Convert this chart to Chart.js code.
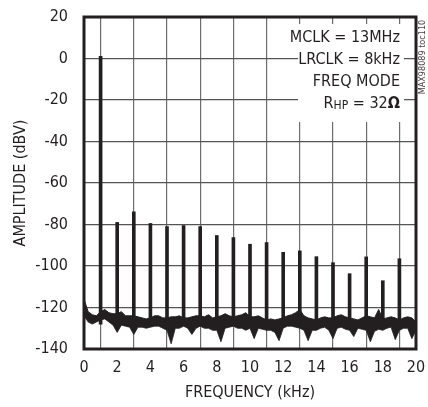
<!DOCTYPE html>
<html>
<head>
<meta charset="utf-8">
<script src="https://cdn.jsdelivr.net/npm/chart.js@4.4.1/dist/chart.umd.min.js"></script>
<style>
html,body{margin:0;padding:0;background:#fff;}
#wrap{position:relative;width:428px;height:407px;}
</style>
</head>
<body>
<div id="wrap"><canvas id="c" width="428" height="407"></canvas></div>
<script>
// Harmonic peaks (kHz, dBV)
const harmonicFreq = [1,2,3,4,5,6,7,8,9,10,11,12,13,14,15,16,17,18,19];
const harmonicPeak = [1,-79,-73.9,-79.5,-81,-80.5,-81,-85.3,-86.3,-89.5,-88.7,-93.4,-92.7,-95.5,-98.4,-103.7,-95.6,-107.1,-96.5];
const harmonicBase = -128;

// Noise floor envelope (kHz, dBV)
const noiseFreq = [0,0.25,0.5,0.75,1,1.25,1.5,1.75,2,2.25,2.5,2.75,3,3.25,3.5,3.75,4,4.25,4.5,4.75,5,5.25,5.5,5.75,6,6.25,6.5,6.75,7,7.25,7.5,7.75,8,8.25,8.5,8.75,9,9.25,9.5,9.75,10,10.25,10.5,10.75,11,11.25,11.5,11.75,12,12.25,12.5,12.75,13,13.25,13.5,13.75,14,14.25,14.5,14.75,15,15.25,15.5,15.75,16,16.25,16.5,16.75,17,17.25,17.5,17.75,18,18.25,18.5,18.75,19,19.25,19.5,19.75,20];
const noiseUpper = [-116,-122,-123.5,-124,-122,-121,-122.5,-123,-123,-122,-124,-124,-124,-124.5,-125,-125.5,-125,-124,-124,-125,-125,-124.5,-124.5,-124,-125,-125,-124.5,-124,-124,-124.5,-123.5,-125,-124.5,-124,-123,-124,-124.5,-124,-123.5,-122.5,-124.5,-124.5,-124,-125,-126,-125.5,-126,-125.5,-125,-124,-123.5,-122.5,-121,-124,-125,-125.5,-126,-125,-124.5,-125,-125,-124,-123.5,-124.5,-125,-125.5,-126,-125,-124,-124.5,-125,-121,-125.5,-125,-124.5,-125,-126,-125,-124.5,-125,-127];
const noiseLower = [-124,-127,-128,-127,-126,-125.5,-127,-128.5,-132,-128.5,-129,-129.5,-133,-129.5,-129.5,-130,-129.5,-129,-129,-130,-131,-137.5,-130,-130,-129,-130,-133,-130,-129,-130,-130,-131,-131,-136.5,-130,-129.5,-129,-130,-130,-131,-130,-135,-130,-130.5,-131,-131,-132,-136,-130,-129,-129,-129.5,-130,-131,-136,-131,-131,-130,-129.5,-131,-135,-130,-129.5,-130.5,-131,-134,-130,-130.5,-131,-136.5,-131.5,-130.5,-131,-130,-129.5,-135.5,-131,-130,-130,-135,-131];

// Axis ranges / ticks
const xTicks = [0,2,4,6,8,10,12,14,16,18,20];
const yTicks = [20,0,-20,-40,-60,-80,-100,-120,-140];

const FONT = "'DejaVu Sans Condensed','Liberation Sans',sans-serif";
const INK = '#231f20';

const noteLines = ['MCLK = 13MHz','LRCLK = 8kHz','FREQ MODE'];

const framePlugin = {
  id: 'frame',
  beforeDatasetsDraw(chart) {
    const {ctx, chartArea:a} = chart;
    ctx.save();
    ctx.fillStyle = '#fff';
    ctx.fillRect(a.right - 118, a.top + 7, 106, 98);
    ctx.restore();
  },
  afterDraw(chart) {
    const {ctx, chartArea:a} = chart;
    ctx.save();
    ctx.strokeStyle = INK;
    ctx.lineWidth = 3;
    ctx.strokeRect(a.left, a.top, a.right - a.left, a.bottom - a.top);
    ctx.fillStyle = INK;
    ctx.textAlign = 'right';
    ctx.textBaseline = 'alphabetic';
    ctx.font = '16px ' + FONT;
    const rx = a.right - 16;
    noteLines.forEach((t, i) => ctx.fillText(t, rx, a.top + 25 + i * 22));
    const y4 = a.top + 25 + 3 * 22;
    ctx.font = 'bold 16px ' + FONT;
    const wO = ctx.measureText('Ω').width;
    ctx.fillText('Ω', rx, y4);
    ctx.font = '16px ' + FONT;
    const s2 = ' = 32';
    const w2 = ctx.measureText(s2).width;
    ctx.fillText(s2, rx - wO, y4);
    ctx.font = '12px ' + FONT;
    const wHP = ctx.measureText('HP').width;
    ctx.fillText('HP', rx - wO - w2, y4 + 1);
    ctx.font = '16px ' + FONT;
    ctx.fillText('R', rx - wO - w2 - wHP, y4);
    ctx.save();
    ctx.translate(a.right + 7, a.top + 40);
    ctx.rotate(-Math.PI / 2);
    ctx.textAlign = 'center';
    ctx.textBaseline = 'middle';
    ctx.font = '9px ' + FONT;
    ctx.fillStyle = '#444';
    ctx.fillText('MAX98089 toc110', 0, 0);
    ctx.restore();
    ctx.restore();
  }
};

new Chart(document.getElementById('c'), {
  type: 'bar',
  data: {
    datasets: [
      {
        type: 'bar',
        label: 'harmonics',
        data: harmonicFreq.map((f, i) => ({x: f, y: [harmonicBase, harmonicPeak[i]]})),
        backgroundColor: INK,
        borderWidth: 0,
        barThickness: 3,
        grouped: false,
        order: 1
      },
      {
        type: 'line',
        label: 'noiseUpper',
        data: noiseFreq.map((f, i) => ({x: f, y: noiseUpper[i]})),
        borderColor: INK,
        borderWidth: 1,
        pointRadius: 0,
        tension: 0,
        fill: '+1',
        backgroundColor: INK,
        order: 2
      },
      {
        type: 'line',
        label: 'noiseLower',
        data: noiseFreq.map((f, i) => ({x: f, y: noiseLower[i]})),
        borderColor: INK,
        borderWidth: 0.8,
        pointRadius: 0,
        tension: 0,
        fill: false,
        order: 2
      }
    ]
  },
  options: {
    responsive: false,
    animation: false,
    devicePixelRatio: 1,
    layout: {padding: {top: 17, right: 12, left: 0, bottom: 0}},
    plugins: {legend: {display: false}, tooltip: {enabled: false}},
    scales: {
      x: {
        type: 'linear',
        min: 0, max: 20,
        offset: false,
        afterBuildTicks: s => { s.ticks = xTicks.map(v => ({value: v})); },
        afterFit: s => { s.height = 58; s.paddingLeft = 0; s.paddingRight = 0; },
        grid: {color: '#6d6d6d', lineWidth: 1.2, drawTicks: false},
        border: {display: false},
        ticks: {font: {family: FONT, size: 16}, color: INK, padding: 9, maxRotation: 0},
        title: {display: true, text: 'FREQUENCY (kHz)', font: {family: FONT, size: 16}, color: INK, padding: {top: 2, bottom: 5}}
      },
      y: {
        type: 'linear',
        min: -140, max: 20,
        afterBuildTicks: s => { s.ticks = yTicks.map(v => ({value: v})); },
        afterFit: s => { s.width = 84; s.paddingTop = 0; s.paddingBottom = 0; },
        grid: {color: '#555', lineWidth: 1.2, drawTicks: false},
        border: {display: false},
        ticks: {font: {family: FONT, size: 16}, color: INK, padding: 16},
        title: {display: true, text: 'AMPLITUDE (dBV)', font: {family: FONT, size: 16}, color: INK, padding: {top: 11, bottom: 4}}
      }
    }
  },
  plugins: [framePlugin]
});
</script>
</body>
</html>
